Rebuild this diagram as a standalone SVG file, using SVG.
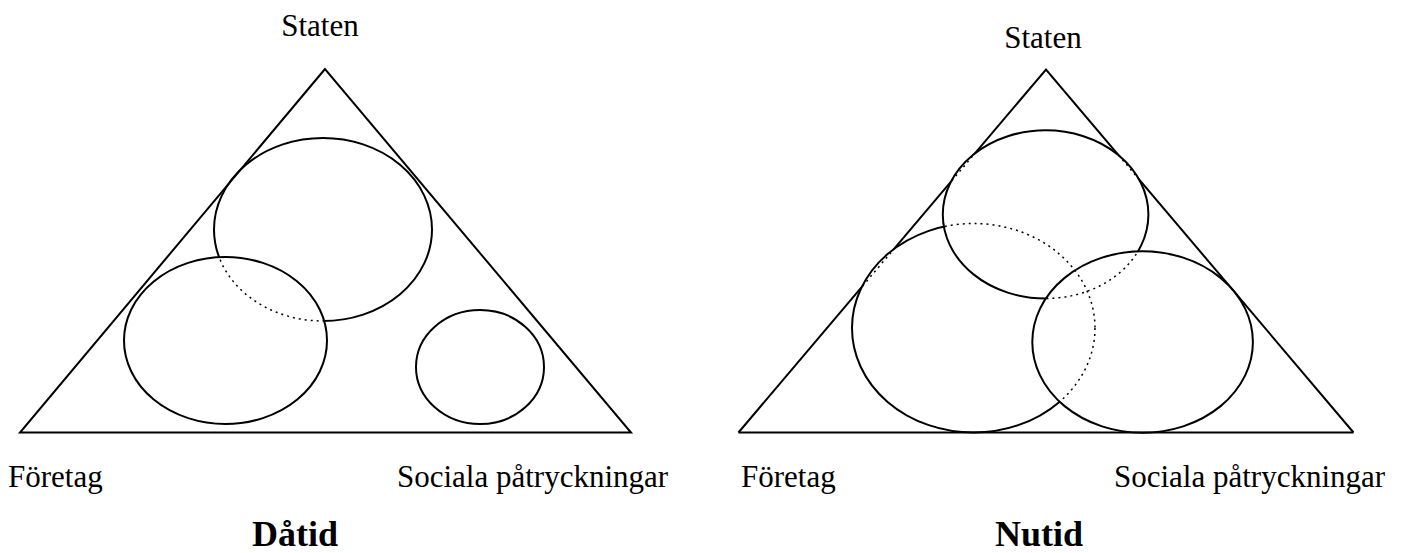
<svg xmlns="http://www.w3.org/2000/svg" width="1408" height="553" viewBox="0 0 1408 553">
  <style>
    .ln { fill: none; stroke: #000; stroke-width: 2; }
    .dot { fill: none; stroke: #000; stroke-width: 1.5; stroke-dasharray: 2 4; }
    .lbl { font-family: "Liberation Serif", "Times New Roman", serif; font-size: 31px; fill: #000; }
    .ttl { font-family: "Liberation Serif", "Times New Roman", serif; font-size: 36px; font-weight: bold; fill: #000; text-anchor: middle; }
  </style>
  <defs>
    <!-- Dåtid -->
    <clipPath id="clipDF"><ellipse cx="225.5" cy="340.5" rx="101.5" ry="83.5"/></clipPath>
    <mask id="maskDF" maskUnits="userSpaceOnUse" x="0" y="0" width="1408" height="553">
      <rect x="0" y="0" width="1408" height="553" fill="#fff"/>
      <ellipse cx="225.5" cy="340.5" rx="101.5" ry="83.5" fill="#000"/>
    </mask>
    <!-- Nutid -->
    <clipPath id="clipNR"><ellipse cx="1142.6" cy="342" rx="110.3" ry="90.7"/></clipPath>
    <mask id="maskNR" maskUnits="userSpaceOnUse" x="0" y="0" width="1408" height="553">
      <rect x="0" y="0" width="1408" height="553" fill="#fff"/>
      <ellipse cx="1142.6" cy="342" rx="110.3" ry="90.7" fill="#000"/>
    </mask>
    <clipPath id="clipNSR">
      <ellipse cx="1142.6" cy="342" rx="110.3" ry="90.7"/>
      <ellipse cx="1045.6" cy="214.4" rx="102.8" ry="84.1"/>
    </clipPath>
    <mask id="maskNSR" maskUnits="userSpaceOnUse" x="0" y="0" width="1408" height="553">
      <rect x="0" y="0" width="1408" height="553" fill="#fff"/>
      <ellipse cx="1142.6" cy="342" rx="110.3" ry="90.7" fill="#000"/>
      <ellipse cx="1045.6" cy="214.4" rx="102.8" ry="84.1" fill="#000"/>
    </mask>
    <clipPath id="clipNAll">
      <ellipse cx="1142.6" cy="342" rx="110.3" ry="90.7"/>
      <ellipse cx="1045.6" cy="214.4" rx="102.8" ry="84.1"/>
      <ellipse cx="973.5" cy="328" rx="121.5" ry="104.5"/>
    </clipPath>
    <mask id="maskNAll" maskUnits="userSpaceOnUse" x="0" y="0" width="1408" height="553">
      <rect x="0" y="0" width="1408" height="553" fill="#fff"/>
      <ellipse cx="1142.6" cy="342" rx="110.3" ry="90.7" fill="#000"/>
      <ellipse cx="1045.6" cy="214.4" rx="102.8" ry="84.1" fill="#000"/>
      <ellipse cx="973.5" cy="328" rx="121.5" ry="104.5" fill="#000"/>
    </mask>
  </defs>

  <!-- ===== Dåtid ===== -->
  <g id="datid-triangle">
    <polygon class="ln" points="325,69 20,432.5 631,432.5"/>
  </g>
  <g id="datid-staten">
    <ellipse class="ln" cx="323" cy="229.5" rx="109" ry="91.5" mask="url(#maskDF)"/>
    <ellipse class="dot" cx="323" cy="229.5" rx="109" ry="91.5" clip-path="url(#clipDF)"/>
  </g>
  <g id="datid-foretag">
    <ellipse class="ln" cx="225.5" cy="340.5" rx="101.5" ry="83.5"/>
  </g>
  <g id="datid-sociala">
    <ellipse class="ln" cx="480" cy="367" rx="64" ry="57"/>
  </g>
  <g id="datid-labels">
    <text class="lbl" x="320" y="36" text-anchor="middle">Staten</text>
    <text class="lbl" x="8" y="487">Företag</text>
    <text class="lbl" x="397" y="487">Sociala påtryckningar</text>
    <text class="ttl" x="295" y="546">Dåtid</text>
  </g>

  <!-- ===== Nutid ===== -->
  <g id="nutid-triangle">
    <polyline class="ln" points="738.5,432.5 1046,69.5 1353.5,432.5" mask="url(#maskNAll)"/>
    <polyline class="dot" points="738.5,432.5 1046,69.5 1353.5,432.5" clip-path="url(#clipNAll)"/>
    <line class="ln" x1="738.5" y1="432.5" x2="1353.5" y2="432.5"/>
  </g>
  <g id="nutid-foretag">
    <ellipse class="ln" cx="973.5" cy="328" rx="121.5" ry="104.5" mask="url(#maskNSR)"/>
    <ellipse class="dot" cx="973.5" cy="328" rx="121.5" ry="104.5" clip-path="url(#clipNSR)"/>
  </g>
  <g id="nutid-staten">
    <ellipse class="ln" cx="1045.6" cy="214.4" rx="102.8" ry="84.1" mask="url(#maskNR)"/>
    <ellipse class="dot" cx="1045.6" cy="214.4" rx="102.8" ry="84.1" clip-path="url(#clipNR)"/>
  </g>
  <g id="nutid-sociala">
    <ellipse class="ln" cx="1142.6" cy="342" rx="110.3" ry="90.7"/>
  </g>
  <g id="nutid-labels">
    <text class="lbl" x="1043" y="48" text-anchor="middle">Staten</text>
    <text class="lbl" x="741" y="487">Företag</text>
    <text class="lbl" x="1114" y="487">Sociala påtryckningar</text>
    <text class="ttl" x="1039" y="546">Nutid</text>
  </g>
</svg>
